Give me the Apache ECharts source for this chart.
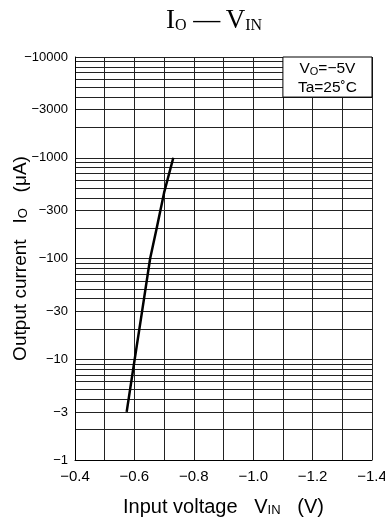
<!DOCTYPE html>
<html>
<head>
<meta charset="utf-8">
<script src="https://cdn.jsdelivr.net/npm/echarts@6/dist/echarts.min.js"></script>
<style>
html,body{margin:0;padding:0;background:#fff;}
#c{width:385px;height:523px;}
</style>
</head>
<body>
<div id="c"></div>
<script>
// Data
var vin = [-0.574, -0.601, -0.626, -0.653, -0.675, -0.7, -0.731];
var io  = [-3, -10, -30, -100, -200, -450, -1000];

// Axis tick definitions
var xLabelVals = [-0.4, -0.6, -0.8, -1.0, -1.2, -1.4];
var yLabelVals = [-1, -3, -10, -30, -100, -300, -1000, -3000, -10000];
var yGridVals = [-1,-2,-3,-4,-5,-6,-7,-8,-9,-10,-20,-30,-40,-50,-60,-70,-80,-90,-100,-200,-300,-400,-500,-600,-700,-800,-900,-1000,-2000,-3000,-4000,-5000,-6000,-7000,-8000,-9000,-10000];
var noteBox = {x1: -1.1, x2: -1.4, y1: -4000, y2: -10000};

var M = '\u2212';
var chart = echarts.init(document.getElementById('c'));
var sans = 'Liberation Sans';
var serif = 'Liberation Serif';
var lineCol = '#222';

chart.setOption({
  animation: false,
  backgroundColor: '#fff',
  grid: {left: 75, right: 13, top: 57, bottom: 63, containLabel: false, outerBoundsMode: 'none'},
  graphic: [{
    type: 'text', x: 214, y: 21,
    style: {
      text: '{m|I}{s|O}{m| \u2014\u2009V}{s|IN}',
      align: 'center', verticalAlign: 'middle',
      rich: {
        m: {fontFamily: serif, fontSize: 27, lineHeight: 26, verticalAlign: 'bottom', fill: '#000'},
        s: {fontFamily: serif, fontSize: 16, lineHeight: 12, verticalAlign: 'bottom', fill: '#000'}
      }
    }
  }],
  xAxis: {
    type: 'value', inverse: true, min: -1.4, max: -0.4, interval: 0.1,
    axisLine: {show: true, onZero: false, lineStyle: {color: '#000', width: 1}},
    axisTick: {show: false},
    splitLine: {show: true, lineStyle: {color: lineCol, width: 1}},
    axisLabel: {
      color: '#000', fontFamily: sans, fontSize: 15, margin: 9,
      formatter: function (v) {
        var k = Math.round(v * 10);
        if (k % 2 !== 0) return '';
        return M + Math.abs(v).toFixed(1);
      }
    },
    name: '{t|Input voltage   V}{s|IN}{t|   (V)}',
    nameLocation: 'middle', nameGap: 35, nameMoveOverlap: false,
    nameTextStyle: {
      rich: {
        t: {fontFamily: sans, fontSize: 20, color: '#000', lineHeight: 22, verticalAlign: 'bottom'},
        s: {fontFamily: sans, fontSize: 13, color: '#000', lineHeight: 12, verticalAlign: 'bottom'}
      }
    }
  },
  yAxis: {
    type: 'log', logBase: 10, min: 1, max: 10000,
    axisLine: {show: true, lineStyle: {color: '#000', width: 1}},
    axisTick: {show: false, customValues: yGridVals.map(Math.abs)},
    splitLine: {show: true, lineStyle: {color: lineCol, width: 1}},
    axisLabel: {
      color: '#000', fontFamily: sans, fontSize: 13, margin: 7,
      customValues: yLabelVals.map(Math.abs),
      formatter: function (v) { return M + Math.round(v); }
    },
    name: '{t|Output current   I}{s|O}{t|   (\u03bcA)}',
    nameLocation: 'middle', nameGap: 45, nameRotate: 90, nameMoveOverlap: false,
    nameTextStyle: {
      rich: {
        t: {fontFamily: sans, fontSize: 19, color: '#000', lineHeight: 22, verticalAlign: 'bottom'},
        s: {fontFamily: sans, fontSize: 13, color: '#000', lineHeight: 12, verticalAlign: 'bottom'}
      }
    }
  },
  series: [{
    type: 'line',
    data: vin.map(function (v, i) { return [v, Math.abs(io[i])]; }),
    showSymbol: false, smooth: false,
    lineStyle: {color: '#000', width: 2.5},
    markArea: {
      silent: true,
      itemStyle: {color: '#fff', borderColor: '#000', borderWidth: 1},
      label: {
        show: true, position: 'inside',
        formatter: '{t|V}{s|O}{t|=' + M + '5V}\n{t|Ta=25\u02daC}',
        rich: {
          t: {fontFamily: sans, fontSize: 15.5, color: '#000', lineHeight: 19, verticalAlign: 'bottom'},
          s: {fontFamily: sans, fontSize: 11, color: '#000', lineHeight: 13, verticalAlign: 'bottom'}
        }
      },
      data: [[{xAxis: noteBox.x1, yAxis: Math.abs(noteBox.y1)}, {xAxis: noteBox.x2, yAxis: Math.abs(noteBox.y2)}]]
    }
  }]
});
</script>
</body>
</html>
